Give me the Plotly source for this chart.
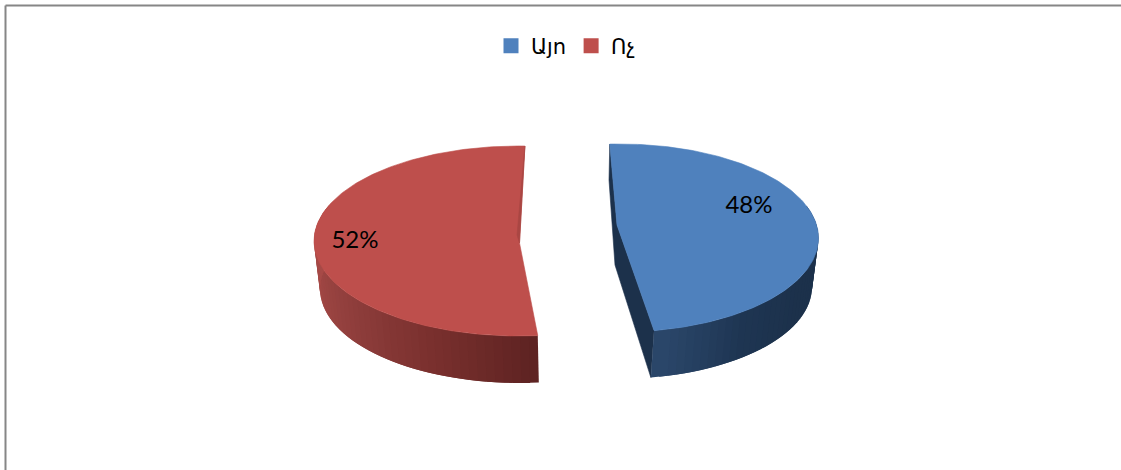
import math
import plotly.graph_objects as go

# --- data ---
categories = ["Այո", "Ոչ"]
values = [48, 52]
colors = ["#4F81BD", "#BE4F4C"]
percent_labels = ["48%", "52%"]

# --- drawing constants (pixel space of the 1121x470 frame) ---
FONT = "Lato, 'Noto Sans', 'DejaVu Sans', sans-serif"
W, H = 1121, 470
TOP = [dict(cx=619.5, cy=238, rx=199, ry=94), dict(cx=518.5, cy=241, rx=204.5, ry=95)]
BOT = [dict(cx=617, cy=287, rx=195, ry=92), dict(cx=520, cy=289, rx=200, ry=94)]
APEX = [(617, 225), (519.5, 243)]
START = [-2.8, 174.6]
LABEL_AT = [(749, 207), (355, 242)]
WALL_RANGE = [(70, None), (None, 292)]
STEP = 2.5


def pt(e, deg):
    t = math.radians(deg)
    return e["cx"] + e["rx"] * math.sin(t), e["cy"] - e["ry"] * math.cos(t)


def frange(a, b, s):
    n = max(1, int(round(abs(b - a) / s)))
    return [a + (b - a) * i / n for i in range(n + 1)]


def lerp_hex(stops, f):
    f = max(0, min(1, f))
    pos = f * (len(stops) - 1)
    i = min(int(pos), len(stops) - 2)
    k = pos - i
    a, b = stops[i], stops[i + 1]
    return "#%02x%02x%02x" % tuple(
        int(round(int(a[j:j + 2], 16) * (1 - k) + int(b[j:j + 2], 16) * k)) for j in (1, 3, 5)
    )


def poly(points, color, lw=0.6):
    xs = [p[0] for p in points] + [points[0][0]]
    ys = [p[1] for p in points] + [points[0][1]]
    return go.Scatter(x=xs, y=ys, mode="lines", fill="toself", fillcolor=color,
                      line=dict(color=color, width=lw), showlegend=False, hoverinfo="skip")


fig = go.Figure()
spans = [v / sum(values) * 360 for v in values]

wall_stops = [
    ["#2a4669", "#1e3552", "#1c314b", "#1c314b", "#1c314b"],
    ["#5e2322", "#7a302e", "#8f3e3c", "#a34845", "#ab4c49"],
]
for i in (1, 0):
    a0, a1 = START[i], START[i] + spans[i]
    lo, hi = WALL_RANGE[i]
    lo = a0 if lo is None else lo
    hi = a1 if hi is None else hi
    # cut face(s)
    if i == 0:
        fig.add_trace(poly([pt(TOP[i], a0), (609, 180), (615, 265), pt(BOT[i], a1), pt(TOP[i], a1), APEX[i]], "#1c314b"))
    # outer wall: painted so that each band overlaps its neighbour, which hides the seams
    angles = frange(lo, hi, STEP)
    bands = list(zip(angles[:-1], angles[1:]))
    if i == 1:
        order = [(u, min(v + STEP, hi)) for u, v in bands]
    else:
        order = [(max(u - STEP, lo), v) for u, v in bands]
    for u, v in order:
        frac = (u - a0) / (hi - lo) if i == 1 else (a1 - v) / (a1 - lo)
        fig.add_trace(poly([pt(TOP[i], u), pt(TOP[i], v), pt(BOT[i], v), pt(BOT[i], u)],
                           lerp_hex(wall_stops[i], frac), lw=0))
    # top surface
    arc = [pt(TOP[i], a) for a in frange(a0, a1, 1.0)]
    fig.add_trace(poly([APEX[i]] + arc, colors[i]))

# thin darker facet along the red slice's rear cut
p_s = pt(TOP[1], START[1] + spans[1])
fig.add_trace(poly([p_s, (520.5, 235), APEX[1], (517, 235), (521, 190)], "#a94643"))

# percentage labels
for (x, y), t in zip(LABEL_AT, percent_labels):
    fig.add_trace(go.Scatter(x=[x], y=[y], mode="text", text=[t], textposition="middle center",
                             textfont=dict(family=FONT, size=24, color="#000000"),
                             showlegend=False, hoverinfo="skip"))

# legend entries
for c, col in zip(categories, colors):
    fig.add_trace(go.Scatter(x=[None], y=[None], mode="markers", name=c,
                             marker=dict(symbol="square", size=15, color=col)))

frame = dict(color="#868686", width=2)
fig.update_layout(
    width=W, height=H, autosize=False,
    margin=dict(l=0, r=0, t=0, b=0),
    paper_bgcolor="#ffffff", plot_bgcolor="#ffffff",
    xaxis=dict(range=[0, W], visible=False, fixedrange=True),
    yaxis=dict(range=[H, 0], visible=False, fixedrange=True),
    legend=dict(orientation="h", x=0.5 + 5 / W, y=1 - 46 / H, xanchor="center", yanchor="middle",
                font=dict(family=FONT, size=21, color="#000000"), itemwidth=30,
                bgcolor="rgba(0,0,0,0)", tracegroupgap=0),
    shapes=[
        dict(type="line", xref="x", yref="y", x0=5.5, x1=W, y0=5.5, y1=5.5, line=frame),
        dict(type="line", xref="x", yref="y", x0=5.5, x1=5.5, y0=5.5, y1=H, line=frame),
    ],
)
fig.write_html("out.html", config={"displayModeBar": False},
               post_script="document.body.style.margin='0';")
